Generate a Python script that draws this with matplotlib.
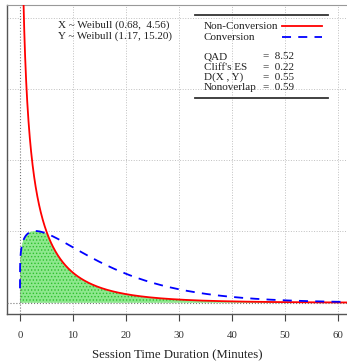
import numpy as np
import matplotlib
matplotlib.use("Agg")
import matplotlib.pyplot as plt

# Weibull parameters (shape, scale) as printed on the chart
x_shape, x_scale = 0.68, 4.56    # Non-Conversion
y_shape, y_scale = 1.17, 15.20   # Conversion

stat_names = ["QAD", "Cliff's ES", "D(X , Y)", "Nonoverlap"]
stat_values = ["8.52", "0.22", "0.55", "0.59"]

xticks = [0, 10, 20, 30, 40, 50, 60]
ygrid = [0.05, 0.10, 0.15, 0.20]


def weibull_pdf(t, k, lam):
    return (k / lam) * (t / lam) ** (k - 1) * np.exp(-(t / lam) ** k)


plt.rcParams['font.family'] = ['Liberation Serif', 'DejaVu Serif']
plt.rcParams['hatch.linewidth'] = 0.6

fig = plt.figure(figsize=(3.47, 3.62), dpi=100)
ax = fig.add_axes([7 / 347, 1 - 314 / 362, 340 / 347, 309 / 362])

t = np.unique(np.concatenate([np.geomspace(1e-4, 1, 300), np.linspace(1, 62, 1500)]))
fx = weibull_pdf(t, x_shape, x_scale)
fy = weibull_pdf(t, y_shape, y_scale)
overlap = np.minimum(fx, fy)

ax.fill_between(t, 0, overlap, facecolor='#8de88d', edgecolor='#2fbf2f',
                hatch='.....', linewidth=0, zorder=2)
ax.plot(t, fx, color='#ff0000', lw=1.3, zorder=4)
ax.plot(t, fy, color='#0000ff', lw=1.3, ls=(0, (5, 4)), zorder=4)

# grid
for v in xticks[1:]:
    ax.axvline(v, color='#c0c0c0', lw=0.7, ls=':', zorder=1)
for h in ygrid:
    ax.axhline(h, color='#c0c0c0', lw=0.7, ls=':', zorder=1)
ax.axvline(0, color='#777777', lw=0.8, ls=':', zorder=3)
ax.axhline(0, color='#777777', lw=0.8, ls=':', zorder=3)

ax.set_xlim(-2.45, 61.7)
ax.set_ylim(-0.0079, 0.2088)
ax.set_xticks(xticks)
ax.set_yticks([])
ax.tick_params(axis='x', direction='out', length=5, width=0.8, color='#444444',
               labelsize=7.8, pad=7.5, labelcolor='#333333')
for side in ['left', 'bottom']:
    ax.spines[side].set_color('#555555')
    ax.spines[side].set_linewidth(1.0)
ax.spines['top'].set_color('#999999')
ax.spines['right'].set_visible(False)

ax.set_xlabel('Session Time Duration (Minutes)', fontsize=9.2, labelpad=6.5, color='#222222')

tr = ax.transAxes
ax.text(0.15, 0.935, 'X ~ Weibull (0.68,  4.56)', transform=tr, fontsize=8,
        va='center', color='#222222')
ax.text(0.15, 0.899, 'Y ~ Weibull (1.17, 15.20)', transform=tr, fontsize=8,
        va='center', color='#222222')

# legend box
ax.plot([0.553, 0.944], [0.968, 0.968], transform=tr, color='#333333', lw=1.3, clip_on=False)
ax.plot([0.553, 0.944], [0.699, 0.699], transform=tr, color='#333333', lw=1.3, clip_on=False)
ax.text(0.579, 0.932, 'Non-Conversion', transform=tr, fontsize=8, va='center', color='#222222')
ax.text(0.579, 0.896, 'Conversion', transform=tr, fontsize=8, va='center', color='#222222')
ax.plot([0.809, 0.926], [0.932, 0.932], transform=tr, color='#ff0000', lw=1.3)
ax.plot([0.809, 0.926], [0.896, 0.896], transform=tr, color='#0000ff', lw=1.3, ls=(0, (5, 4)))

for i, (name, val) in enumerate(zip(stat_names, stat_values)):
    yy = 0.832 - i * 0.0335
    ax.text(0.579, yy, name, transform=tr, fontsize=8, va='center', color='#222222')
    ax.text(0.753, yy, '=  ' + val, transform=tr, fontsize=8, va='center', color='#222222')

fig.savefig('out.png', dpi=100)
